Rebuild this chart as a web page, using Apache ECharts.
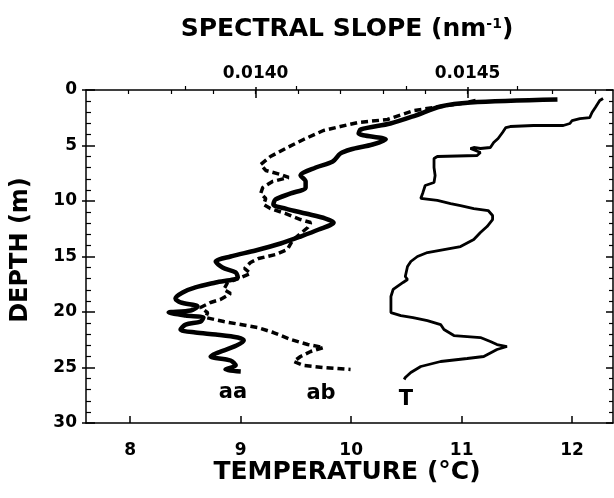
<!DOCTYPE html>
<html>
<head>
<meta charset="utf-8">
<script src="https://cdn.jsdelivr.net/npm/echarts@6/dist/echarts.min.js"></script>
<style>
html,body{margin:0;padding:0;background:#fff;}
#chart{width:614px;height:498px;}
</style>
</head>
<body>
<div id="chart"></div>
<script>
// ---- Data ----
// aa: spectral slope (nm^-1) vs depth (m), solid thick
const aaDepth = [0.86,1.13,1.49,2.30,3.02,3.56,3.92,4.46,4.91,5.36,5.72,6.44,6.98,7.70,8.24,8.78,9.32,9.86,10.32,10.68,11.13,11.58,11.94,12.57,13.20,13.83,14.46,15.00,15.45,15.99,16.44,16.89,17.34,17.79,18.24,18.78,19.14,19.50,19.86,20.05,20.32,20.50,20.86,21.13,21.58,21.85,22.03,22.30,22.57,23.02,23.74,24.01,24.37,24.82,25.18,25.36];
const aaSlope = [0.014712,0.014507,0.014436,0.014377,0.014318,0.014248,0.014243,0.014307,0.014276,0.014224,0.014200,0.014182,0.014142,0.014106,0.014118,0.014118,0.014083,0.014047,0.014042,0.014071,0.014118,0.014165,0.014184,0.014149,0.014106,0.014059,0.014000,0.013941,0.013906,0.013922,0.013953,0.013958,0.013906,0.013858,0.013828,0.013811,0.013823,0.013863,0.013847,0.013795,0.013835,0.013877,0.013870,0.013835,0.013823,0.013858,0.013906,0.013958,0.013972,0.013955,0.013906,0.013894,0.013941,0.013953,0.013929,0.013965];
// ab: spectral slope (nm^-1) vs depth (m), dashed
const abDepth = [0.95,1.22,1.85,2.66,2.93,3.29,3.65,4.46,5.18,5.99,6.71,7.25,7.61,7.88,8.24,8.78,9.32,9.77,10.32,10.68,11.13,11.67,11.94,12.39,12.93,13.56,14.37,14.82,15.18,15.54,16.08,16.53,16.89,17.34,17.97,18.33,18.87,19.14,19.59,20.05,20.50,20.86,21.13,21.40,21.85,22.48,22.93,23.20,23.56,24.01,24.46,24.82,25.00,25.18];
const abSlope = [0.014519,0.014484,0.014373,0.014311,0.014241,0.014200,0.014160,0.014113,0.014075,0.014035,0.014012,0.014024,0.014059,0.014078,0.014040,0.014017,0.014012,0.014024,0.014019,0.014035,0.014071,0.014106,0.014130,0.014123,0.014106,0.014087,0.014075,0.014047,0.014007,0.013988,0.013974,0.013988,0.013965,0.013934,0.013925,0.013941,0.013917,0.013894,0.013870,0.013887,0.013882,0.013925,0.013965,0.014005,0.014042,0.014083,0.014123,0.014160,0.014130,0.014106,0.014090,0.014113,0.014160,0.014224];
// T: temperature (°C) vs depth (m)
const tDepth = [0.77,0.95,1.58,2.03,2.48,2.57,2.75,3.02,3.20,3.20,3.29,3.38,3.83,4.37,4.73,5.18,5.27,5.18,5.27,5.63,5.90,5.99,6.17,6.98,7.70,8.33,8.60,9.23,9.77,9.95,10.23,10.41,10.68,10.86,11.31,11.67,12.30,12.84,13.47,14.10,14.37,14.64,15.00,15.45,15.90,16.80,17.07,17.34,17.97,18.60,20.05,20.32,20.50,20.77,21.13,21.58,22.12,22.30,22.66,22.93,23.11,23.38,24.01,24.19,24.46,24.91,25.45,25.90,26.08];
const tTemp = [12.28,12.25,12.21,12.18,12.16,12.07,12.00,11.98,11.92,11.65,11.44,11.40,11.37,11.33,11.29,11.26,11.17,11.11,11.08,11.17,11.14,10.78,10.75,10.75,10.76,10.75,10.67,10.65,10.63,10.78,10.90,10.99,11.11,11.24,11.28,11.28,11.23,11.17,11.11,10.99,10.84,10.69,10.60,10.54,10.51,10.49,10.51,10.47,10.38,10.36,10.36,10.45,10.56,10.69,10.81,10.84,10.93,11.17,11.26,11.32,11.41,11.32,11.20,11.05,10.81,10.63,10.54,10.49,10.48];

// Axis tick / label values
const tempLabels = [8, 9, 10, 11, 12];
const tempMinorTicks = [8.5, 9.5, 10.5, 11.5];
const slopeLabels = [0.0140, 0.0145];
const slopeTicks = [0.0137, 0.0138, 0.0139, 0.0140, 0.0141, 0.0142, 0.0143, 0.0144, 0.0145, 0.0146, 0.0147, 0.0148];

const FONT = "'DejaVu Sans', sans-serif";
const pairs = (xs, ys) => xs.map((x, i) => [x, ys[i]]);

const chart = echarts.init(document.getElementById('chart'), null, {renderer: 'canvas'});
const black = '#000';
const lblStyle = {color: black, fontFamily: FONT, fontWeight: 'bold', fontSize: 17};
const bigFont = (px) => "bold " + px + "px 'DejaVu Sans', sans-serif";

chart.setOption({
  animation: false,
  backgroundColor: '#fff',
  grid: {left: 86, top: 90, right: 1, bottom: 75, containLabel: false},
  xAxis: [
    { // bottom temperature axis
      type: 'value', position: 'bottom', min: 7.6, max: 12.37,
      axisLine: {show: true, onZero: false, lineStyle: {color: black, width: 1.5}},
      axisTick: {show: true, inside: true, length: 7, customValues: tempLabels, lineStyle: {color: black, width: 1.5}},
      axisLabel: Object.assign({customValues: tempLabels, margin: 19}, lblStyle),
      splitLine: {show: false}
    },
    { // bottom minor ticks
      type: 'value', position: 'bottom', min: 7.6, max: 12.37,
      axisLine: {show: false},
      axisTick: {show: true, inside: true, length: 4, customValues: tempMinorTicks, lineStyle: {color: black, width: 1.2}},
      axisLabel: {show: false}, splitLine: {show: false}
    },
    { // top spectral slope axis
      type: 'value', position: 'top', min: 0.0136, max: 0.014843,
      axisLine: {show: true, onZero: false, lineStyle: {color: black, width: 1.5}},
      axisTick: {show: true, inside: true, length: 4, customValues: slopeTicks, lineStyle: {color: black, width: 1.2}},
      axisLabel: Object.assign({customValues: slopeLabels, margin: 8, formatter: v => Number(v).toFixed(4)}, lblStyle),
      splitLine: {show: false}
    },
    { // top major ticks (inside part)
      type: 'value', position: 'top', min: 0.0136, max: 0.014843,
      axisLine: {show: false},
      axisTick: {show: true, inside: true, length: 8, customValues: slopeLabels, lineStyle: {color: black, width: 1.5}},
      axisLabel: {show: false}, splitLine: {show: false}
    },
    { // top major ticks (outside part)
      type: 'value', position: 'top', min: 0.0136, max: 0.014843,
      axisLine: {show: false},
      axisTick: {show: true, inside: false, length: 3, customValues: slopeLabels, lineStyle: {color: black, width: 1.5}},
      axisLabel: {show: false}, splitLine: {show: false}
    }
  ],
  yAxis: [
    { // left depth axis
      type: 'value', position: 'left', inverse: true, min: 0, max: 30, interval: 5,
      axisLine: {show: true, onZero: false, lineStyle: {color: black, width: 1.5}},
      axisTick: {show: true, inside: true, length: 9, lineStyle: {color: black, width: 1.5}},
      minorTick: {show: true, splitNumber: 5, length: 5, lineStyle: {color: black, width: 1.2}},
      axisLabel: Object.assign({margin: 9}, lblStyle),
      splitLine: {show: false}, minorSplitLine: {show: false}
    },
    { // right depth axis (ticks only)
      type: 'value', position: 'right', inverse: true, min: 0, max: 30, interval: 5,
      axisLine: {show: true, onZero: false, lineStyle: {color: black, width: 1.5}},
      axisTick: {show: true, inside: true, length: 7, lineStyle: {color: black, width: 1.5}},
      minorTick: {show: true, splitNumber: 5, length: 4, lineStyle: {color: black, width: 1.2}},
      axisLabel: {show: false},
      splitLine: {show: false}, minorSplitLine: {show: false}
    },
    { // left outward major ticks
      type: 'value', position: 'left', inverse: true, min: 0, max: 30, interval: 5,
      axisLine: {show: false},
      axisTick: {show: true, inside: false, length: 4, lineStyle: {color: black, width: 1.5}},
      axisLabel: {show: false}, splitLine: {show: false}
    }
  ],
  series: [
    {
      name: 'T', type: 'line', xAxisIndex: 0, yAxisIndex: 0,
      data: pairs(tTemp, tDepth), symbol: 'none', showSymbol: false,
      lineStyle: {color: black, width: 2.8}, z: 3
    },
    {
      name: 'ab', type: 'line', xAxisIndex: 2, yAxisIndex: 0,
      data: pairs(abSlope, abDepth), symbol: 'none', showSymbol: false,
      lineStyle: {color: black, width: 3.5, type: [7, 4]}, z: 3
    },
    {
      name: 'aa', type: 'line', xAxisIndex: 2, yAxisIndex: 0,
      data: pairs(aaSlope, aaDepth), symbol: 'none', showSymbol: false, smooth: 0.3,
      lineStyle: {color: black, width: 4.5}, z: 4
    }
  ],
  graphic: [
    {type: 'text', x: 347, y: 17, style: {
      text: '{a|SPECTRAL SLOPE (nm}{s|-1}{a|)}', align: 'center', verticalAlign: 'top',
      rich: {
        a: {fontFamily: FONT, fontWeight: 'bold', fontSize: 25, fill: black, verticalAlign: 'bottom'},
        s: {fontFamily: FONT, fontWeight: 'bold', fontSize: 14, fill: black, verticalAlign: 'top', padding: [0, 0, 11, 0]}
      }}},
    {type: 'text', x: 347, y: 472, style: {text: 'TEMPERATURE (°C)', align: 'center', verticalAlign: 'middle',
      font: bigFont(25), fill: black}},
    {type: 'text', x: 21, y: 250, rotation: Math.PI / 2, style: {text: 'DEPTH (m)', align: 'center', verticalAlign: 'middle',
      font: bigFont(24), fill: black}},
    {type: 'text', x: 233, y: 393, style: {text: 'aa', align: 'center', verticalAlign: 'middle',
      font: bigFont(21), fill: black}},
    {type: 'text', x: 321, y: 394, style: {text: 'ab', align: 'center', verticalAlign: 'middle',
      font: bigFont(21), fill: black}},
    {type: 'text', x: 406, y: 400, style: {text: 'T', align: 'center', verticalAlign: 'middle',
      font: bigFont(21), fill: black}}
  ]
});
</script>
</body>
</html>
